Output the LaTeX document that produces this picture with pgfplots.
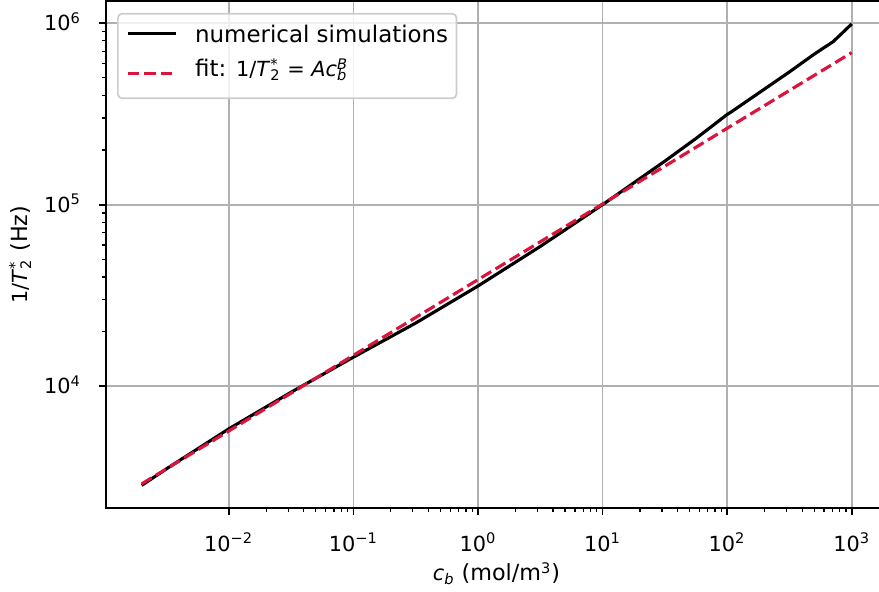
\documentclass[border=0pt]{standalone}
\usepackage{fontspec}
\setmainfont{DejaVu Sans}
\usepackage{pgfplots}
\pgfplotsset{compat=1.18}
\definecolor{gridgray}{RGB}{176,176,176}
\definecolor{crimson}{RGB}{220,20,60}
\definecolor{legedge}{RGB}{204,204,204}
\newcommand{\mtx}{\fontsize{10}{12}\selectfont}
\newcommand{\Tstar}{{\mtx\textit{T}\rlap{\textsuperscript{*}}\textsubscript{2}}}
\pgfplotsset{
  leglineA/.style={legend image code/.code={\path[draw=none] (0pt,-2pt) rectangle (23pt,6pt); \draw[##1] (0pt,2.5pt) -- (23pt,2.5pt);}},
  leglineB/.style={legend image code/.code={\path[draw=none] (0pt,-2pt) rectangle (23pt,6pt); \draw[##1] (0pt,-0.1pt) -- (23pt,-0.1pt);}},
}
\begin{document}
\begin{tikzpicture}
\begin{axis}[
  scale only axis, width=374.9pt, height=243.2pt,
  xmode=log, ymode=log,
  xmin=1.035e-3, xmax=1919,
  ymin=2138, ymax=1.321e6,
  xtick={0.01,0.1,1,10,100,1000},
  xticklabels={10\textsuperscript{−2},10\textsuperscript{−1},10\textsuperscript{0},10\textsuperscript{1},10\textsuperscript{2},10\textsuperscript{3}},
  ytick={1e4,1e5,1e6},
  yticklabels={10\textsuperscript{4},10\textsuperscript{5},10\textsuperscript{6}},
  grid=major,
  major grid style={gridgray, line width=0.8pt},
  tick align=outside, tick pos=left,
  major tick length=3.5pt, minor tick length=2pt,
  major tick style={black, line width=0.8pt},
  minor tick style={black, line width=0.6pt},
  axis line style={line width=0.8pt},
  ticklabel style={font=\fontsize{10}{12}\selectfont},
  xticklabel style={anchor=base, inner sep=0pt, yshift=-17.3pt},
  yticklabel style={anchor=base east, inner sep=0pt, xshift=-8.4pt, yshift=-3.65pt},
  label style={font=\fontsize{10.7}{12.8}\selectfont},
  xlabel={{\mtx\textit{c}\textsubscript{\textit{b}}} (mol/m{\mtx\textsuperscript{3}})},
  xlabel style={at={([yshift=-35pt]axis description cs:0.5,0)}, anchor=base, inner sep=0pt},
  ylabel={{\mtx1/}\Tstar\ (Hz)},
  ylabel style={at={([xshift=-37.7pt]axis description cs:0,0.5)}, anchor=base, inner sep=0pt},
  legend style={at={(0,1)}, xshift=5.3pt, yshift=-5.6pt, anchor=north west,
    draw=legedge, line width=0.8pt,
    rounded corners=2pt, fill=white, fill opacity=0.8, text opacity=1,
    font=\fontsize{11}{13}\selectfont, inner xsep=4pt, inner ysep=5pt,
    column sep=8.6pt, row sep=2.6pt,
    nodes={inner sep=0pt, text height=8.6pt, text depth=5.4pt}, cells={anchor=west}},
]
\addplot[black, line width=1.5pt, line join=round, leglineA] coordinates {
(0.002,2844) (0.003162,3508) (0.01,5821) (0.03162,9268) (0.1,14454)
(0.3162,22284) (1,35645) (3.162,58884) (10,100000) (17.78,131800)
(31.62,173800) (56.23,231700) (100,314100) (107.2,323600) (195.4,429500)
(319.9,542000) (492,669900) (711.2,792500) (1000,990800)
};
\addlegendentry{numerical simulations}
\addplot[crimson, line width=1.5pt, dash pattern=on 5.55pt off 2.4pt, leglineB] coordinates {
(0.002,2897) (1000,688500)
};
\addlegendentry{fit: {\mtx1/\Tstar\ = \textit{Ac}\rlap{\textsuperscript{\textit{B}}}\textsubscript{\textit{b}}}}
\end{axis}
\pgfresetboundingbox
\path[use as bounding box] ([xshift=-50.9pt, yshift=-40.2pt]current axis.south west) rectangle ([xshift=-3.84pt, yshift=0.6pt]current axis.north east);
\end{tikzpicture}
\end{document}
